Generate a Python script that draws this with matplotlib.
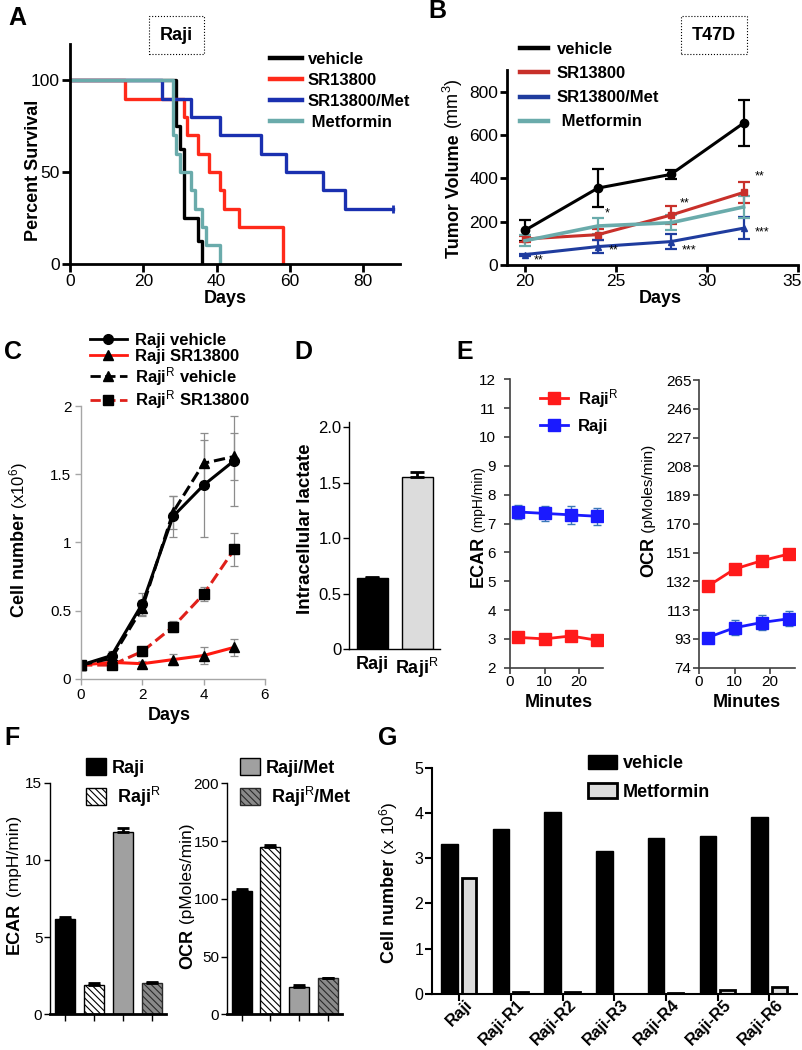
import numpy as np
import matplotlib
matplotlib.use('Agg')
import matplotlib.pyplot as plt
from matplotlib.lines import Line2D
from matplotlib.patches import Patch
import matplotlib.transforms as mtrans

plt.rcParams['font.family'] = ['Liberation Sans', 'DejaVu Sans']
plt.rcParams['mathtext.fontset'] = 'custom'
plt.rcParams['mathtext.rm'] = 'Liberation Sans'
plt.rcParams['mathtext.bf'] = 'Liberation Sans:bold'
plt.rcParams['mathtext.it'] = 'Liberation Sans:italic'
plt.rcParams['hatch.linewidth'] = 0.8

# ---- A: survival (Raji)
a_veh_days = [0, 29, 30, 31, 35, 36]
a_veh_surv = [100, 75, 62.5, 25, 12.5, 0]
a_sr_days = [0, 15, 31, 32, 35, 38, 41, 42, 46, 58]
a_sr_surv = [100, 90, 80, 70, 60, 50, 40, 30, 20, 0]
a_srmet_days = [0, 25, 33, 41, 52, 59, 69, 75, 88]
a_srmet_surv = [100, 90, 80, 70, 60, 50, 40, 30, 30]
a_met_days = [0, 28, 29, 30, 33, 34, 36, 37, 41]
a_met_surv = [100, 70, 60, 50, 40, 30, 20, 10, 0]

# ---- B: tumor volume (T47D)
b_days = [20, 24, 28, 32]
b_veh = [160, 355, 418, 655]
b_veh_err = [48, 88, 21, 108]
b_sr = [120, 140, 230, 335]
b_sr_err = [15, 25, 42, 50]
b_srmet = [48, 85, 108, 170]
b_srmet_err = [5, 30, 35, 50]
b_met = [112, 180, 195, 268]
b_met_err = [25, 35, 35, 50]
b_stars = ['*', '**', '**', '***', '***', '**', '**']
b_star_x = [24.4, 28.5, 32.6, 32.6, 28.6, 24.6, 20.5]
b_star_y = [240, 285, 410, 150, 65, 65, 20]

# ---- C: cell growth
c_days = [0, 1, 2, 3, 4, 5]
c_raji_veh = [0.10, 0.17, 0.55, 1.19, 1.42, 1.60]
c_raji_veh_err = [0.01, 0.03, 0.08, 0.15, 0.38, 0.33]
c_raji_sr = [0.10, 0.12, 0.11, 0.14, 0.17, 0.23]
c_raji_sr_err = [0.01, 0.02, 0.02, 0.04, 0.06, 0.06]
c_rajir_veh = [0.10, 0.15, 0.52, 1.22, 1.58, 1.63]
c_rajir_veh_err = [0.01, 0.03, 0.06, 0.12, 0.17, 0.17]
c_rajir_sr = [0.10, 0.10, 0.20, 0.38, 0.62, 0.95]
c_rajir_sr_err = [0.01, 0.02, 0.03, 0.04, 0.05, 0.12]

# ---- D: intracellular lactate
d_labels = ['Raji', r'Raji$^{\mathrm{R}}$']
d_vals = [0.64, 1.55]
d_err = [0.01, 0.05]

# ---- E: seahorse time courses
e_minutes = [2.4, 10, 17.6, 25.3]
e_ecar_rajir = [3.05, 3.0, 3.1, 2.95]
e_ecar_rajir_err = [0.1, 0.1, 0.1, 0.1]
e_ecar_raji = [7.4, 7.35, 7.3, 7.25]
e_ecar_raji_err = [0.25, 0.25, 0.3, 0.3]
e_ocr_rajir = [128, 139.5, 145, 149.5]
e_ocr_rajir_err = [3, 3, 3, 3]
e_ocr_raji = [94, 100.5, 104, 106.5]
e_ocr_raji_err = [3, 5, 5, 5]
e_ocr_ticks = ['74', '93', '113', '132', '151', '170', '189', '208', '227', '246', '265']

# ---- F: ECAR / OCR bars
f_groups = ['Raji', r' Raji$^{\mathrm{R}}$', 'Raji/Met', r' Raji$^{\mathrm{R}}$/Met']
f_ecar = [6.15, 1.9, 11.8, 2.05]
f_ecar_err = [0.12, 0.1, 0.25, 0.05]
f_ocr = [107, 145, 23.5, 31]
f_ocr_err = [1.5, 1.5, 1.5, 0.8]

# ---- G: resistant clones
g_lines = ['Raji', 'Raji-R1', 'Raji-R2', 'Raji-R3', 'Raji-R4', 'Raji-R5', 'Raji-R6']
g_vehicle = [3.32, 3.65, 4.02, 3.17, 3.45, 3.50, 3.92]
g_metformin = [2.57, 0.05, 0.05, 0.01, 0.03, 0.08, 0.15]

W, H = 803, 1050
fig = plt.figure(figsize=(W / 100, H / 100), dpi=100)


def px_axes(l, t, r, b):
    return fig.add_axes([l / W, 1 - b / H, (r - l) / W, (b - t) / H])


def fpt(x, y):
    return (x / W, 1 - y / H)


def vlabel(xb, yc, parts):
    # stacked rotated label pieces, baseline at x = xb, centred at yc (pixels)
    rend = fig.canvas.get_renderer()
    ts = [fig.text(0, 0, s, fontsize=fs, fontweight=fw, rotation=90,
                   rotation_mode='anchor', ha='left', va='baseline')
          for s, fs, fw in parts]
    lens = [t.get_window_extent(rend).height for t in ts]
    y = yc + sum(lens) / 2
    for t, L in zip(ts, lens):
        t.set_position(fpt(xb, y))
        y -= L


def xlab(ax, s, xc, ytop, fs=13):
    ax.set_xlabel(s, fontsize=fs, fontweight='bold')
    ax.xaxis.set_label_coords(xc / W, 1 - ytop / H, transform=fig.transFigure)


def style(ax, lw=1.0, color='black', fs=10.5, tl=4):
    for s in ['top', 'right']:
        ax.spines[s].set_visible(False)
    for s in ['left', 'bottom']:
        ax.spines[s].set_linewidth(lw)
        ax.spines[s].set_color(color)
    ax.tick_params(direction='out', length=tl, width=lw, color=color, labelsize=fs, pad=1.5)


# panel letters
for let, x, y in [('A', 8, 18), ('B', 428, 11), ('C', 4, 352), ('D', 294, 352),
                  ('E', 456, 352), ('F', 4, 738), ('G', 378, 738)]:
    fig.text(*fpt(x, y), let, fontsize=18, fontweight='bold', va='center')

# ================= A
axA = px_axes(70, 43.7, 400, 263.7)
style(axA, lw=2, fs=12.5, tl=6)
cA = ['black', '#ff2a1a', '#1a30b0', '#6aabab']
axA.step(a_veh_days, a_veh_surv, where='post', color=cA[0], lw=2.4)
axA.step(a_sr_days, a_sr_surv, where='post', color=cA[1], lw=2.4)
axA.step(a_srmet_days, a_srmet_surv, where='post', color=cA[2], lw=2.4)
axA.step(a_met_days, a_met_surv, where='post', color=cA[3], lw=2.4)
axA.plot(a_srmet_days[-1:], a_srmet_surv[-1:], marker='|', ms=6, mew=2, color=cA[2])
axA.set_xlim(0, 90)
axA.set_ylim(0, 120)
axA.set_xticks([0, 20, 40, 60, 80])
axA.set_yticks([0, 50, 100])
xlab(axA, 'Days', 225, 290)
vlabel(38, 170, [('Percent Survival', 13, 'bold')])
fig.text(*fpt(176.5, 35), 'Raji', fontsize=13, fontweight='bold', ha='center', va='center',
         bbox=dict(boxstyle='square,pad=0.6', fc='white', ec='black', ls=':', lw=0.8))
hA = [Line2D([], [], color=c, lw=3.2) for c in cA]
axA.legend(hA, ['vehicle', 'SR13800', 'SR13800/Met', ' Metformin'], loc='upper left',
           bbox_to_anchor=fpt(270, 52), bbox_transform=fig.transFigure, frameon=False,
           prop={'weight': 'bold', 'size': 12}, handlelength=1.9, handletextpad=0.35,
           labelspacing=0.36, borderpad=0, borderaxespad=0)

# ================= B
axB = px_axes(507.3, 70, 798.3, 265)
style(axB, lw=2, fs=12.5, tl=5)
cB = ['black', '#c8302a', '#1f3c9e', '#6aabab']
ekw = dict(capsize=4, elinewidth=1.6, capthick=1.6, lw=2.2)
axB.errorbar(b_days, b_veh, yerr=b_veh_err, color=cB[0], marker='o', ms=6, **ekw)
axB.errorbar(b_days, b_sr, yerr=b_sr_err, color=cB[1], marker='s', ms=5, **ekw)
axB.errorbar(b_days, b_srmet, yerr=b_srmet_err, color=cB[2], marker='^', ms=5, **ekw)
axB.errorbar(b_days, b_met, yerr=b_met_err, color=cB[3], marker=None, **dict(ekw, lw=2.6))
for s, x, y in zip(b_stars, b_star_x, b_star_y):
    axB.text(x, y, s, fontsize=9, ha='left', va='center')
axB.set_xlim(19.03, 35)
axB.set_ylim(0, 900)
axB.set_xticks([20, 25, 30, 35])
axB.set_yticks([0, 200, 400, 600, 800])
# keep the last tick label inside the picture edge
last = axB.get_xticklabels()[-1]
last.set_transform(last.get_transform() +
                   mtrans.ScaledTranslation(-6 / 100, 0, fig.dpi_scale_trans))
xlab(axB, 'Days', 660, 290)
vlabel(459, 168, [('Tumor Volume', 13, 'bold'), (' (mm$^{3}$)', 13, 'normal')])
fig.text(*fpt(714, 35), 'T47D', fontsize=13, fontweight='bold', ha='center', va='center',
         bbox=dict(boxstyle='square,pad=0.6', fc='white', ec='black', ls=':', lw=0.8))
hB = [Line2D([], [], color=c, lw=3.2) for c in cB]
axB.legend(hB, ['vehicle', 'SR13800', 'SR13800/Met', ' Metformin'], loc='upper left',
           bbox_to_anchor=fpt(520, 42), bbox_transform=fig.transFigure, frameon=False,
           prop={'weight': 'bold', 'size': 12}, handlelength=1.7, handletextpad=0.5,
           labelspacing=0.55, borderpad=0, borderaxespad=0)

# ================= C
axC = px_axes(81, 406, 265, 678.7)
style(axC, lw=1.0, color='#a6a6a6', fs=11, tl=4)
ck = dict(ecolor='#8c8c8c', elinewidth=0.9, capsize=3, capthick=0.9, lw=2.2, ms=7)
axC.errorbar(c_days, c_rajir_sr, yerr=c_rajir_sr_err, color='#e0201a', ls='--', marker='s',
             mfc='black', mec='black', **ck)
axC.errorbar(c_days, c_raji_sr, yerr=c_raji_sr_err, color='#ff1a10', ls='-', marker='^',
             mfc='black', mec='black', **ck)
axC.errorbar(c_days, c_rajir_veh, yerr=c_rajir_veh_err, color='black', ls='--', marker='^', **ck)
axC.errorbar(c_days, c_raji_veh, yerr=c_raji_veh_err, color='black', ls='-', marker='o', **ck)
axC.set_xlim(0, 6)
axC.set_ylim(0, 2)
axC.set_xticks([0, 2, 4, 6])
axC.set_yticks([0, 0.5, 1, 1.5, 2])
axC.set_yticklabels(['0', '0.5', '1', '1.5', '2'])
axC.tick_params(pad=3)
xlab(axC, 'Days', 169, 707)
vlabel(24, 540, [('Cell number', 13, 'bold'), (' (x10$^{6}$)', 12, 'normal')])
hC = [Line2D([], [], color='black', ls='-', marker='o', lw=2, ms=7),
      Line2D([], [], color='#ff1a10', ls='-', marker='^', mfc='black', mec='black', lw=2, ms=7),
      Line2D([], [], color='black', ls='--', marker='^', lw=2, ms=7),
      Line2D([], [], color='#e0201a', ls='--', marker='s', mfc='black', mec='black', lw=2, ms=7)]
axC.legend(hC, ['Raji vehicle', 'Raji SR13800', r'Raji$^{\mathrm{R}}$ vehicle',
                r'Raji$^{\mathrm{R}}$ SR13800'], loc='upper left',
           bbox_to_anchor=fpt(90, 333), bbox_transform=fig.transFigure, frameon=False,
           prop={'weight': 'bold', 'size': 12}, handlelength=2.2, handletextpad=0.5,
           labelspacing=0.05, borderpad=0, borderaxespad=0)

# ================= D
axD = px_axes(349.3, 421.7, 440, 649)
style(axD, lw=1.0, fs=12, tl=4)
xd = np.arange(len(d_vals))
axD.bar(xd, d_vals, width=0.69, color=['black', '#dcdcdc'], edgecolor='black', lw=1)
axD.errorbar(xd, d_vals, yerr=[[0, 0], d_err], fmt='none', ecolor='black', capsize=5,
             elinewidth=2, capthick=2)
axD.set_xlim(-0.51, 1.51)
axD.set_ylim(0, 2.05)
axD.set_yticks([0, 0.5, 1.0, 1.5, 2.0])
axD.set_yticklabels(['0', '0.5', '1.0', '1.5', '2.0'])
axD.set_xticks(xd)
axD.set_xticklabels(d_labels, fontsize=13, fontweight='bold')
axD.tick_params(axis='x', length=0, pad=5)
vlabel(310, 529, [('Intracellular lactate', 13.5, 'bold')])

# ================= E
axE1 = px_axes(510, 379.3, 603.3, 667.7)
axE2 = px_axes(699, 380, 795, 667.7)
for ax in (axE1, axE2):
    style(ax, lw=1.2, color='#404040', fs=11, tl=4)
    ax.set_xlim(0, 27)
    ax.set_xticks([0, 10, 20])
ek = dict(capsize=3, elinewidth=1, capthick=1, lw=2, marker='s', ms=8)
axE1.errorbar(e_minutes, e_ecar_rajir, yerr=e_ecar_rajir_err, color='#ff1a1a', ecolor='#ff1a1a', **ek)
axE1.errorbar(e_minutes, e_ecar_raji, yerr=e_ecar_raji_err, color='#1a1aff', ecolor='#3a78b8', **ek)
axE2.errorbar(e_minutes, e_ocr_rajir, yerr=e_ocr_rajir_err, color='#ff1a1a', ecolor='#ff1a1a', **ek)
axE2.errorbar(e_minutes, e_ocr_raji, yerr=e_ocr_raji_err, color='#1a1aff', ecolor='#3a78b8', **ek)
axE1.set_ylim(2, 12)
axE1.set_yticks(range(2, 13))
axE2.set_ylim(74, 265)
axE2.set_yticks(np.linspace(74, 265, 11))
axE2.set_yticklabels(e_ocr_ticks)
axE1.tick_params(axis='y', pad=6)
xlab(axE1, 'Minutes', 559, 694)
xlab(axE2, 'Minutes', 746.5, 694)
vlabel(483, 527, [('ECAR', 13, 'bold'), (' (mpH/min)', 10, 'normal')])
vlabel(653, 511, [('OCR', 13, 'bold'), (' (pMoles/min)', 11, 'normal')])
hE = [Line2D([], [], color='#ff1a1a', marker='s', ms=8, lw=2),
      Line2D([], [], color='#1a1aff', marker='s', ms=8, lw=2)]
axE1.legend(hE, [r'Raji$^{\mathrm{R}}$', 'Raji'], loc='upper left',
            bbox_to_anchor=fpt(540, 387), bbox_transform=fig.transFigure, frameon=False,
            prop={'weight': 'bold', 'size': 12}, handlelength=1.7, handletextpad=0.6,
            labelspacing=0.55, borderpad=0, borderaxespad=0)

# ================= F
hatch = '\\' * 5
f_face = ['black', 'white', '#a0a0a0', '#8a8a8a']
f_edge = ['black', 'black', 'black', '#2a2a2a']
f_hatch = [None, hatch, None, hatch]
axF1 = px_axes(50, 782.7, 165.7, 1014.3)
axF2 = px_axes(226.7, 783.3, 341.7, 1014.3)
xf = np.arange(4)
for ax, vals, errs in ((axF1, f_ecar, f_ecar_err), (axF2, f_ocr, f_ocr_err)):
    style(ax, lw=1.0, fs=11, tl=4)
    ax.spines['bottom'].set_linewidth(2)
    bars = ax.bar(xf, vals, width=0.69, color=f_face, edgecolor=f_edge, lw=1)
    for b, h in zip(bars, f_hatch):
        b.set_hatch(h)
    ax.errorbar(xf, vals, yerr=[[0] * 4, errs], fmt='none', ecolor='black', capsize=4,
                elinewidth=2, capthick=2)
    ax.set_xlim(-0.52, 3.48)
    ax.set_xticks(xf)
    ax.set_xticklabels([])
    ax.tick_params(axis='x', length=5, width=1)
axF1.set_ylim(0, 15)
axF1.set_yticks([0, 5, 10, 15])
axF2.set_ylim(0, 200)
axF2.set_yticks([0, 50, 100, 150, 200])
vlabel(19, 885, [('ECAR', 13, 'bold'), (' (mpH/min)', 12.5, 'normal')])
vlabel(192, 896, [('OCR', 13, 'bold'), (' (pMoles/min)', 12.5, 'normal')])
hF = [Patch(fc=f_face[i], ec=f_edge[i], hatch=f_hatch[i], lw=1) for i in range(4)]
fk = dict(loc='upper left', bbox_transform=fig.transFigure, frameon=False,
          prop={'weight': 'bold', 'size': 13}, handlelength=1.1, handleheight=1.05,
          handletextpad=0.35, labelspacing=0.45, borderpad=0, borderaxespad=0)
axF1.legend(hF[:2], f_groups[:2], bbox_to_anchor=fpt(86, 758), **fk)
axF2.legend(hF[2:], f_groups[2:], bbox_to_anchor=fpt(240, 758), **fk)

# ================= G
axG = px_axes(432.3, 767.7, 796.7, 994)
style(axG, lw=1.5, fs=11.5, tl=5)
xg = np.arange(len(g_lines))
axG.bar(xg - 0.19, g_vehicle, width=0.32, color='black', edgecolor='black', lw=1)
axG.bar(xg + 0.19, g_metformin, width=0.29, color='#dcdcdc', edgecolor='black', lw=2)
axG.set_xlim(-0.52, 6.53)
axG.set_ylim(0, 5)
axG.set_yticks(range(6))
axG.set_xticks(xg)
axG.set_xticklabels(g_lines, rotation=45, ha='right', rotation_mode='anchor',
                    fontsize=12, fontweight='bold')
axG.tick_params(axis='x', pad=0)
shift = mtrans.ScaledTranslation(6 / 100, 4 / 100, fig.dpi_scale_trans)
for lab in axG.get_xticklabels():
    lab.set_transform(lab.get_transform() + shift)
vlabel(394, 882, [('Cell number', 13, 'bold'), (' (x 10$^{6}$)', 12.5, 'normal')])
hG = [Patch(fc='black', ec='black', lw=1), Patch(fc='#dcdcdc', ec='black', lw=2)]
axG.legend(hG, ['vehicle', 'Metformin'], loc='upper left',
           bbox_to_anchor=fpt(588, 755), bbox_transform=fig.transFigure, frameon=False,
           prop={'weight': 'bold', 'size': 13}, handlelength=1.6, handleheight=0.85,
           handletextpad=0.35, labelspacing=0.6, borderpad=0, borderaxespad=0)

fig.savefig('out.png', dpi=100)
